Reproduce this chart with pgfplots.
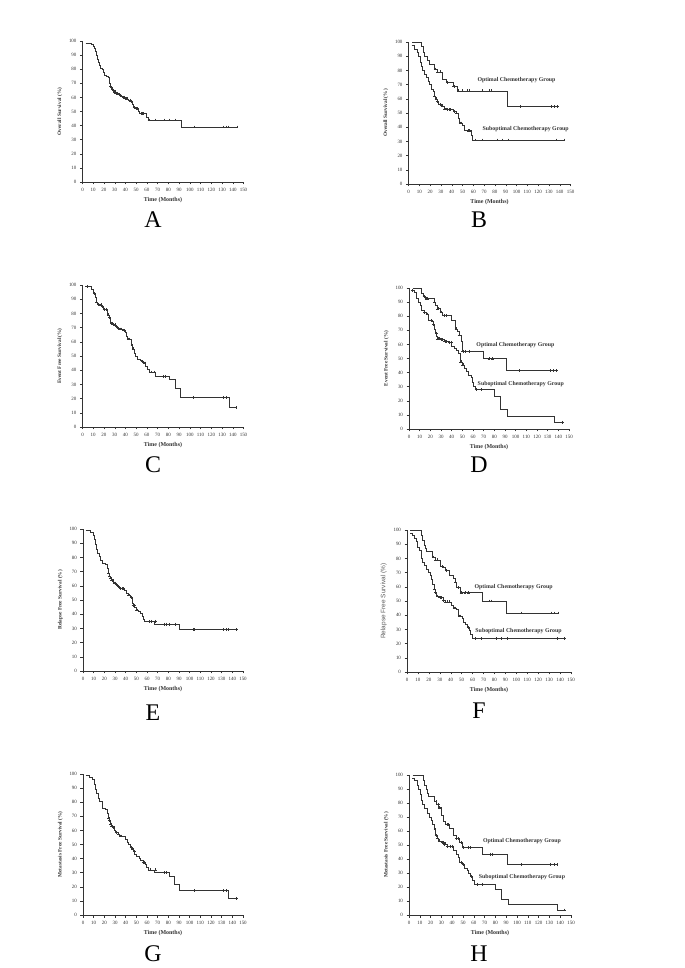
\documentclass[border=0pt]{standalone}
\usepackage{fontspec}
\setmainfont{Liberation Serif}
\newfontfamily\sansf{Liberation Sans}
\usepackage{pgfplots}
\pgfplotsset{compat=1.18}
\definecolor{ln}{gray}{0.2}
\tikzset{gl/.style={font=\bfseries\fontsize{5.9}{7}\selectfont, text=ln}}
\pgfplotsset{
  km/.style={
    scale only axis, anchor=south west, clip=false,
    xmin=0, xmax=150, ymin=0, ymax=100,
    axis lines=left, axis line style={-, line width=0.45bp, ln},
    xtick={0,10,...,150}, ytick={0,10,...,100},
    tick align=outside, major tick length=2.5bp,
    tick style={ln, line width=0.4bp},
    tick label style={font=\fontsize{5}{6}\selectfont, text=ln},
    /pgf/number format/assume math mode=true,
    xlabel={Time (Months)},
    xlabel style={font=\bfseries\fontsize{6}{7}\selectfont, text=ln, yshift=1bp},
    ylabel style={font=\bfseries\fontsize{5.3}{6}\selectfont, text=ln},
  },
  st/.style={const plot, no marks, line width=0.55bp, ln},
  cs/.style={only marks, mark=+, mark size=1.4bp, ln, mark options={line width=0.4bp}},
}
\begin{document}
\begin{tikzpicture}
\path (0,0) rectangle (685bp,968bp);
% ---------------- A
\begin{axis}[km, at={(82.5bp,786bp)}, width=161bp, height=141bp, ylabel={Overall Survival (\%)}]
\addplot[st] coordinates {(3,98.6)(8,97.5)(10,96)(11,95)(12,93)(13,90)(14,87)(15,85)(16,83)(17,81)(18,80)(19,78)(20,76)(22,75)(24,74)(25,70)(26,68)(27,67)(28,66)(29,65)(30,64)(31,63)(33,62)(35,61)(37,60)(40,59)(43,58)(45,57)(46,55)(47,53)(49,52)(52,50)(53,49)(54,48.5)(59,46)(61,44)(92,39)(144,39)};
\addplot[cs] coordinates {(26,68)(27,67)(28,66)(29,65)(30,64)(31,63)(32,63)(34,62)(36,61)(38,60)(39,60)(41,59)(42,59)(44,58)(45,57)(48,53)(50,52)(51,52)(55,48.5)(56,48.5)(57,48.5)(62,44)(68,44)(76,44)(81,44)(86,44)(104,39)(131,39)(134,39)(136,39)(144,39)};
\end{axis}
\node[font=\fontsize{24}{24}\selectfont] at (153bp,748bp) {A};
% ---------------- B
\begin{axis}[km, at={(408.5bp,784bp)}, width=162bp, height=142bp, ylabel={Overall Survival (\%)}]
\addplot[st] coordinates {(3.4,100)(12,97)(14,93)(15,90)(17,87)(19,84.5)(24.3,81)(26.4,79)(31.7,74)(35,71.5)(41.8,68.6)(44.9,65.6)(91.3,54.5)(138,54.5)};
\addplot[cs] coordinates {(24.5,81)(27,79)(29,79)(36,71.5)(42,68.6)(46.4,65.6)(49.5,65.6)(54,65.6)(56,65.6)(68,65.6)(75,65.6)(77,65.6)(103.3,54.5)(132,54.5)(135,54.5)(138,54.5)};
\addplot[st] coordinates {(3,97.6)(5.8,95)(8,93)(9.5,90)(10.8,86)(12,83)(13.2,80)(14.8,77)(16.6,75)(18,72)(19.4,70)(21.2,67)(22.7,65)(23.7,62)(24.9,60)(26.4,58)(28,56)(30.4,55)(32.9,53)(35.7,52.4)(41.8,51)(44,50)(45.8,46)(47,43)(50,41)(52,38)(55,37.5)(58,34)(59.3,31)(144,31)};
\addplot[cs] coordinates {(24,62)(25.5,60)(27,58)(29,56)(31,55)(33.5,53)(36,52.4)(37.5,52.4)(39,52.4)(42.5,51)(44.5,50)(48,43)(49,43)(55.5,37.5)(56.5,37.5)(62,31)(68,31)(82,31)(87,31)(92,31)(137,31)(144,31)};
\node[gl] at (axis cs:100,73) {Optimal Chemotherapy Group};
\node[gl] at (axis cs:108.5,38.7) {Suboptimal Chemotherapy Group};
\end{axis}
\node[font=\fontsize{24}{24}\selectfont] at (479bp,748bp) {B};
% ---------------- C
\begin{axis}[km, at={(82.5bp,541bp)}, width=161bp, height=142bp, ylabel={Event Free Survival (\%)}]
\addplot[st] coordinates {(3.4,98.8)(8,97)(10.2,94)(11.8,91)(12.7,88)(14.2,86.5)(16.4,86)(18,85)(18.9,83)(22,82.6)(23.2,79)(25,77)(25.7,74)(26.6,73)(28.8,72)(31,71)(32.8,69.5)(35,69)(38,68)(39.6,66.5)(41,64)(42,62)(45,60.5)(45.8,57.6)(46.7,55)(48,52)(48.9,50)(51.3,48)(53.5,47)(55,46)(57,45)(58.8,43)(60.3,40.5)(62.2,38.7)(67.4,35.8)(81.3,33.3)(86,27.1)(91,21)(136.5,13.9)(144,13.9)};
\addplot[cs] coordinates {(4,98.8)(11,94)(13,88)(15,86.5)(17,86)(18.5,85)(20,83)(22.5,82.6)(24,79)(25.3,77)(27,73)(28,73)(30,72)(31.5,71)(33,69.5)(35.5,69)(36.5,69)(38.5,68)(42.5,62)(43.5,62)(46.2,57.6)(47,55)(55.5,46)(57.5,45)(58,45)(64,38.7)(67,38.7)(75,35.8)(77,35.8)(103.6,21)(131,21)(134,21)(143,13.9)};
\end{axis}
\node[font=\fontsize{24}{24}\selectfont] at (153bp,503bp) {C};
% ---------------- D
\begin{axis}[km, at={(409bp,539bp)}, width=160bp, height=141bp, ylabel={Event Free Survival (\%)}]
\addplot[st] coordinates {(3.4,100)(11.8,96)(13.4,94)(15,92.4)(23.7,90)(25,87.6)(26.8,85.3)(29,83)(31.2,80.6)(39.3,76.8)(43,71)(45.5,69)(46.8,66.8)(48.6,62)(49.9,55.2)(69.5,49.8)(91.4,41.5)(138,41.5)};
\addplot[cs] coordinates {(14,94)(16,92.4)(17.5,92.4)(24,90)(27,85.3)(30,83)(33,80.6)(35,80.6)(44,71)(47,66.8)(50.5,55.2)(53,55.2)(56,55.2)(75,49.8)(78,49.8)(103,41.5)(132,41.5)(135,41.5)(138,41.5)};
\addplot[st] coordinates {(2.5,98.1)(5,96.7)(7.2,93)(8.7,90)(10.3,87.7)(11.8,84)(14.3,82.5)(16.5,81.5)(18,77)(21.2,76.5)(22.8,74)(23.7,71)(25,68)(25.9,66)(26.8,64)(29,63.5)(33,62)(36.8,61.5)(40,59)(42,57.5)(44,55.5)(46,53.5)(47.7,47.6)(49.9,45.5)(51.8,43)(54,41)(55.5,38.4)(58,36.5)(59.2,33)(60.5,30.3)(61.7,28)(80.4,23)(86,14)(92.3,9.2)(136.6,4.7)(144,4.7)};
\addplot[cs] coordinates {(3,98.1)(14.5,82.5)(17,81.5)(21,77)(23,74)(25.5,68)(27,64)(28,64)(30,63.5)(31,63.5)(33.5,62)(35,62)(38,61.5)(40,61.5)(48.5,47.6)(50.5,45.5)(63,28)(68,28)(144,4.7)};
\node[gl] at (axis cs:99.8,59.7) {Optimal Chemotherapy Group};
\node[gl] at (axis cs:104.8,32) {Suboptimal Chemotherapy Group};
\end{axis}
\node[font=\fontsize{24}{24}\selectfont] at (479bp,503bp) {D};
% ---------------- E
\begin{axis}[km, at={(83bp,297bp)}, width=160bp, height=142bp, ylabel={Relapse Free Survival (\%)}]
\addplot[st] coordinates {(2.5,98.8)(7.2,97.4)(9.4,95.5)(10.3,93)(11.6,89)(12.5,86)(13.4,83)(15,81)(16.3,78)(17.8,76)(21,75)(22.8,72)(23.4,69)(24.4,67)(25.3,65)(26.6,63.7)(28.8,62)(30.6,61)(32.2,59.5)(34.4,58)(39,57)(40.6,55)(42.2,53.5)(44.7,52)(46,48)(47.2,46)(48.4,45)(50,43)(52,42)(54,40.5)(55.6,38.6)(56.9,36.5)(57.8,35)(67.2,33)(90.6,29.2)(144,29.2)};
\addplot[cs] coordinates {(24,69)(25,67)(26,65)(27,63.7)(28,63.7)(29,62)(30,62)(31,61)(33,59.5)(35,58)(36.5,58)(38,58)(43,53.5)(45,52)(47,46)(48,46)(50.5,43)(62,35)(64,35)(68,35)(76,33)(78,33)(81,33)(86,33)(103,29.2)(104.5,29.2)(131,29.2)(134,29.2)(136,29.2)(144,29.2)};
\end{axis}
\node[font=\fontsize{24}{24}\selectfont] at (153bp,255bp) {E};
% ---------------- F
\begin{axis}[km, at={(407bp,296bp)}, width=164bp, height=142bp, ylabel={Relapse Free Survival (\%)},
  ylabel style={font=\sansf\mdseries\fontsize{6.5}{7}\selectfont, text=ln!80}]
\addplot[st] coordinates {(3,100)(12.8,96)(14,93)(15.6,89)(17.1,87)(18,84.7)(23.5,81)(25.7,79)(28.7,78.6)(30.2,74.3)(33.3,73.5)(34.8,71.5)(38.5,68.4)(42.5,66)(44,63.5)(45.5,59.7)(48.6,55.8)(68.4,50)(90.7,41.6)(138,41.6)};
\addplot[cs] coordinates {(24,81)(26,79)(28,79)(32,74.3)(36,71.5)(44.5,63.5)(46.5,59.7)(49.5,55.8)(53,55.8)(56,55.8)(75,50)(77,50)(104,41.6)(132,41.6)(135,41.6)(138,41.6)};
\addplot[st] coordinates {(3,97.4)(5,96)(6.7,94)(8.9,92)(9.8,88)(11.3,85.6)(12.8,80)(14,77)(15.6,75.3)(18,72)(19.6,70)(21,68)(22.6,65.5)(23.5,61.6)(24.7,58.6)(25.7,56)(27.2,53.5)(29.6,52.4)(33.3,50.5)(34.8,49.4)(40.9,47)(42.5,45)(45.5,44)(47,39.5)(50.1,38)(51.6,35.3)(53.2,33.5)(54.7,31.5)(56.8,29.4)(57.7,26.6)(59.9,23.5)(144,23.5)};
\addplot[cs] coordinates {(25,58.6)(26,56)(28,53.5)(30,52.4)(31,52.4)(33.5,50.5)(35,49.4)(37,49.4)(39,49.4)(43,45)(44,45)(48,39.5)(49,39.5)(56,31.5)(62,23.5)(68,23.5)(82,23.5)(86,23.5)(92,23.5)(137,23.5)(144,23.5)};
\node[gl] at (axis cs:97.5,60) {Optimal Chemotherapy Group};
\node[gl] at (axis cs:102,28.7) {Suboptimal Chemotherapy Group};
\end{axis}
\node[font=\fontsize{24}{24}\selectfont] at (479bp,257bp) {F};
% ---------------- G
\begin{axis}[km, at={(83bp,53bp)}, width=160bp, height=141bp, ylabel={Metastasis Free Survival (\%)}]
\addplot[st] coordinates {(2.5,98.8)(6.2,97.7)(8.4,96)(10.3,93)(11.6,89)(12.5,86)(14,83)(15.6,80.6)(17.8,76)(21,75)(22.5,72)(23.4,69)(24.4,67)(25.6,64.5)(26.6,63)(28,62)(29.7,60)(30.6,58.6)(32.8,57.4)(34.4,56)(37.5,55.5)(40,54)(41.6,51.8)(42.8,50)(44.7,48)(46.2,47)(47.5,45)(48.4,43)(50,41.6)(52.5,40)(54,38.5)(56.2,37.5)(58.4,36)(59.4,34)(60.9,32)(67.2,30)(81.3,27.5)(86,22)(90.6,17.3)(136.6,11.8)(144,11.8)};
\addplot[cs] coordinates {(24,69)(25,67)(26,64.5)(27,63)(28.5,62)(29,62)(31,58.6)(33,57.4)(35,56)(36,56)(45,48)(46.5,47)(48,45)(56.5,37.5)(57.5,37.5)(63,32)(68,32)(76,30)(78,30)(104,17.3)(131,17.3)(134,17.3)(144,11.8)};
\end{axis}
\node[font=\fontsize{24}{24}\selectfont] at (153bp,14bp) {G};
% ---------------- H
\begin{axis}[km, at={(409bp,53bp)}, width=162bp, height=140bp, ylabel={Metastasis Free Survival (\%)}]
\addplot[st] coordinates {(3.4,100)(13,96.4)(14.5,93)(15.7,89.5)(17.3,87)(18.2,84.5)(23.8,81)(25,79)(26.9,76.6)(30,71.5)(32.1,67)(33.6,64.7)(37.3,62)(41.4,57)(43.5,54.5)(46.6,52)(49.7,48.1)(67.6,43.3)(90.7,36)(138,36)};
\addplot[cs] coordinates {(25,81)(27,79)(28,76.6)(35,64.7)(36,64.7)(44,54.5)(46,54.5)(48,52)(50.5,48.1)(55,48.1)(57,48.1)(75,43.3)(77,43.3)(104,36)(131,36)(134,36)(137,36)};
\addplot[st] coordinates {(2.8,97.6)(5.2,96)(7.4,93)(9,90)(10.2,86)(11.4,82)(12.7,79)(14.5,76.2)(16.7,73)(18.8,70)(20.4,68)(21.9,65)(23.1,61)(24.4,57)(25.9,55)(27.5,53)(30,52)(33.6,50.5)(35.2,49)(41.4,46)(43.5,43.5)(45.4,41)(46.6,37.6)(49.7,36)(51.5,33.5)(53.7,32)(55.2,29.5)(57,27.5)(59,25)(60.8,22)(80,18.6)(85.5,11)(92.3,7.4)(137,3.6)(144,3.6)};
\addplot[cs] coordinates {(24,61)(25,57)(26.5,55)(28,53)(30.5,52)(31.5,52)(33,50.5)(35.5,49)(38,49)(40,49)(48,37.6)(50,36)(58,27.5)(63,22)(68,22)(144,3.6)};
\node[gl] at (axis cs:104.6,52.6) {Optimal Chemotherapy Group};
\node[gl] at (axis cs:104.6,27.4) {Suboptimal Chemotherapy Group};
\end{axis}
\node[font=\fontsize{24}{24}\selectfont] at (479bp,14bp) {H};
\end{tikzpicture}
\end{document}
